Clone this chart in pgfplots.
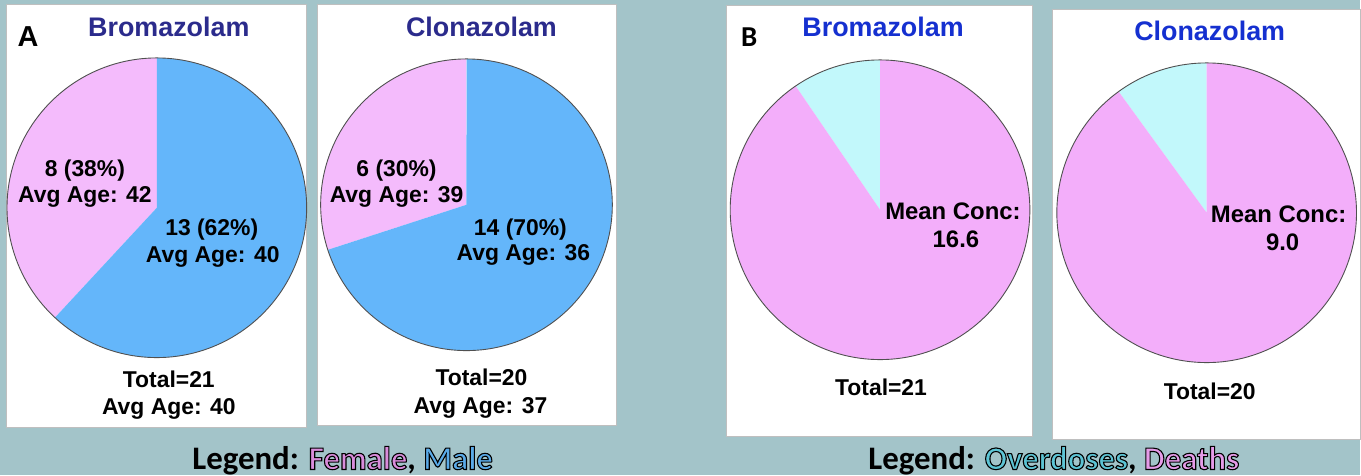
\documentclass[border=0pt]{standalone}
\usepackage{pgfplots}
\pgfplotsset{compat=1.18}
\usepackage{fontspec}
\setmainfont{Liberation Sans}
\newfontfamily\calibri{Carlito}
\definecolor{bg}{HTML}{A3C4C9}
\definecolor{fpink}{HTML}{F4BBFC}
\definecolor{mblue}{HTML}{64B6FA}
\definecolor{ocyan}{HTML}{C2F8FB}
\definecolor{dpink}{HTML}{F3AEFA}
\definecolor{navy}{HTML}{2B2B8C}
\definecolor{tblue}{HTML}{1530D0}
\definecolor{lgF}{HTML}{D98CDB}
\definecolor{lgM}{HTML}{5AAAE8}
\definecolor{lgO}{HTML}{5CC4D4}
\definecolor{lgD}{HTML}{E59BE8}
\definecolor{rim}{HTML}{505050}
\definecolor{pborder}{HTML}{BFBFBF}
\newcommand\outl[2]{{\color{#1}\special{pdf:literal direct 2 Tr 1.1 w 0 G}#2\special{pdf:literal direct 0 Tr}}}
\pgfplotsset{pie/.style={hide axis, scale only axis, width=300bp, height=300bp,
  xmin=-1,xmax=1,ymin=-1,ymax=1, clip=false, anchor=center}}
% slice: colour, start angle, end angle
\newcommand\slice[3]{\addplot[fill=#1, draw=none, domain=#2:#3, samples=90, variable=\t]
  ({cos(\t)},{sin(\t)}) -- (axis cs:0,0) -- cycle;}
\newcommand\rimline{\addplot[draw=rim, line width=0.9bp, domain=0:360, samples=181, variable=\t]
  ({cos(\t)},{sin(\t)});}
\newcommand\T[4][23]{\node[anchor=base, inner sep=0pt, font=\fontsize{#1}{#1}\selectfont\bfseries] at (#2,{476-#3}) {#4};}
% data: counts
\def\BromF{8}\def\BromM{13}
\def\ClonF{6}\def\ClonM{14}
\def\BromOD{2}\def\BromD{19}
\def\ClonOD{2}\def\ClonD{18}
\begin{document}
\begin{tikzpicture}[x=1bp,y=1bp]
\fill[bg] (0,0) rectangle (1361,476);
\filldraw[fill=white, draw=pborder, line width=1bp] (7,{476-428}) rectangle (307,{476-5});
\filldraw[fill=white, draw=pborder, line width=1bp] (318,{476-426}) rectangle (617,{476-5});
\filldraw[fill=white, draw=pborder, line width=1bp] (727,{476-437}) rectangle (1034,{476-6});
\filldraw[fill=white, draw=pborder, line width=1bp] (1054,{476-440}) rectangle (1362,{476-10});
\coordinate (c1) at (157,{476-208});
\coordinate (c2) at (467,{476-205});
\coordinate (c3) at (881,{476-210});
\coordinate (c4) at (1208,{476-213});

% Pie 1: Bromazolam sex
\begin{axis}[pie, at={(c1)}]
\pgfmathsetmacro\a{90+360*\BromF/(\BromF+\BromM)}
\slice{fpink}{90}{\a}
\slice{mblue}{\a}{450}
\rimline
\end{axis}
% Pie 2: Clonazolam sex
\begin{axis}[pie, width=292bp, height=292bp, at={(c2)}]
\pgfmathsetmacro\a{90+360*\ClonF/(\ClonF+\ClonM)}
\slice{fpink}{90}{\a}
\slice{mblue}{\a}{450}
\rimline
\end{axis}
% Pie 3: Bromazolam outcome
\begin{axis}[pie, at={(c3)}]
\pgfmathsetmacro\a{90+360*\BromOD/(\BromOD+\BromD)}
\slice{ocyan}{90}{\a}
\slice{dpink}{\a}{450}
\rimline
\end{axis}
% Pie 4: Clonazolam outcome
\begin{axis}[pie, at={(c4)}]
\pgfmathsetmacro\a{90+360*\ClonOD/(\ClonOD+\ClonD)}
\slice{ocyan}{90}{\a}
\slice{dpink}{\a}{450}
\rimline
\end{axis}

% panel letters and titles
\T[29]{28}{47}{A}
\node[anchor=base, inner sep=0pt, font=\calibri\fontsize{29}{29}\selectfont\bfseries] at (750,{476-47}) {B};
\T[27]{169}{37}{\color{navy}Bromazolam}
\T[27]{482}{37}{\color{navy}Clonazolam}
\T[27]{884}{37}{\color{tblue}Bromazolam}
\T[27]{1211}{41}{\color{tblue}Clonazolam}

% pie 1 labels
\T{85}{177}{8 (38\%)}
\T{85}{203}{Avg Age: 42}
\T{212}{236}{13 (62\%)}
\T{213}{263}{Avg Age: 40}
\T{169}{388}{Total=21}
\T{169}{415}{Avg Age: 40}
% pie 2 labels
\T{397}{177}{6 (30\%)}
\T{397}{203}{Avg Age: 39}
\T{521}{236}{14 (70\%)}
\T{524}{261}{Avg Age: 36}
\T{482}{386}{Total=20}
\T{481}{414}{Avg Age: 37}
% pie 3 labels
\T[24]{954}{220}{Mean Conc:}
\T[24]{957}{248}{16.6}
\T{882}{396}{Total=21}
% pie 4 labels
\T[24]{1280}{223}{Mean Conc:}
\T[24]{1284}{251}{9.0}
\T{1211}{400}{Total=20}

% legends
\node[anchor=base, inner sep=0pt, font=\calibri\fontsize{33}{33}\selectfont\bfseries] at (343,{476-470})
  {Legend: \outl{lgF}{Female}, \outl{lgM}{Male}};
\node[anchor=base, inner sep=0pt, font=\calibri\fontsize{33}{33}\selectfont\bfseries] at (1055,{476-470})
  {Legend: \outl{lgO}{Overdoses}, \outl{lgD}{Deaths}};
\end{tikzpicture}
\end{document}
